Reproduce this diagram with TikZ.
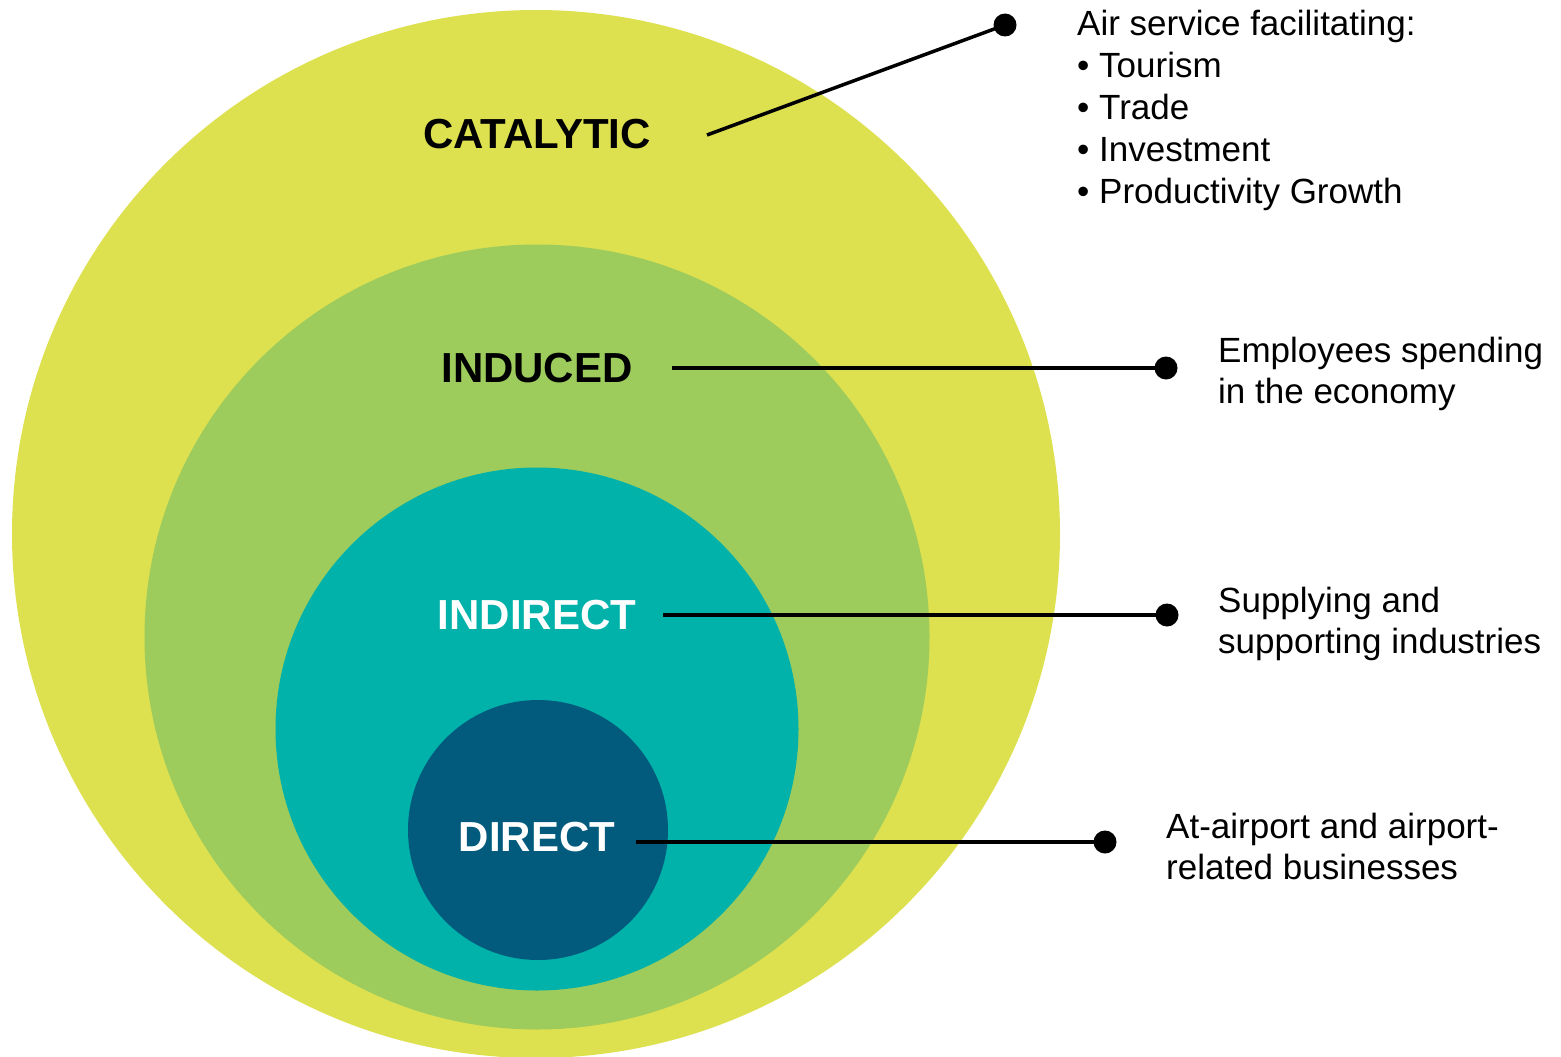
\documentclass[tikz,border=0pt]{standalone}
\usepackage{fontspec}
\setmainfont{Liberation Sans}
\definecolor{catcol}{HTML}{DDE04F}
\definecolor{indcol}{HTML}{9DCC5C}
\definecolor{indircol}{HTML}{00B2AA}
\definecolor{dircol}{HTML}{025B7C}
\tikzset{
	ring/.style = {shape = circle, inner sep = 0pt},
	tag/.style = {font = \bfseries\fontsize{42}{50}\selectfont, inner sep = 0pt},
	endpoint/.style = {shape = circle, fill = black, inner sep = 0pt, minimum size = 23pt},
	note/.style = {font = \fontsize{35}{40.5}\selectfont, align = left,
				   anchor = base west, inner sep = 0pt},
	leader/.style = {line width = 3.5pt}
}
\begin{document}
\begin{tikzpicture}[x = 1pt, y = -1pt]
	\useasboundingbox (0, 0) rectangle (1561, 1057);
	\clip (0, 0) rectangle (1561, 1057);

	\draw (536, 534) node[ring, fill = catcol,
					  minimum size = 1048pt
			   ](catalytic){};
	\draw (537, 637) node[ring, fill = indcol,
					  minimum size = 785pt
			   ](induced){};
	\draw (537, 729) node[ring, fill = indircol,
					  minimum size = 523pt
			   ](indirect){};
	\draw (538, 830) node[ring, fill = dircol,
					  minimum size = 260pt
			   ](direct){};

	\draw (537, 134) node[tag](catlabel){CATALYTIC};
	\draw (537, 368) node[tag](indlabel){INDUCED};
	\draw (537, 615) node[tag, text = white](indirlabel){INDIRECT};
	\draw (537, 837) node[tag, text = white](dirlabel){DIRECT};

	\coordinate (catstart) at (707, 135);
	\coordinate (indstart) at (672, 368);
	\coordinate (indirstart) at (663, 615);
	\coordinate (dirstart) at (636, 842);

	\draw (1005, 25) node[endpoint](catdot){};
	\draw (1166, 368) node[endpoint](inddot){};
	\draw (1167, 615) node[endpoint](indirdot){};
	\draw (1105, 842) node[endpoint](dirdot){};

	\draw[leader] (catstart) -- (catdot.center);
	\draw[leader] (indstart) -- (inddot.center);
	\draw[leader] (indirstart) -- (indirdot.center);
	\draw[leader] (dirstart) -- (dirdot.center);

	% base anchor sits on the last line
	\draw (1077, 203) node[note, font = \fontsize{35}{42}\selectfont](catnote){Air service facilitating:\\
		\textbullet\ Tourism\\
		\textbullet\ Trade\\
		\textbullet\ Investment\\
		\textbullet\ Productivity Growth};
	\draw (1218, 403) node[note](indnote){Employees spending\\in the economy};
	\draw (1218, 653) node[note](indirnote){Supplying and\\supporting industries};
	\draw (1166, 879) node[note](dirnote){At-airport and airport-\\related businesses};
\end{tikzpicture}
\end{document}
